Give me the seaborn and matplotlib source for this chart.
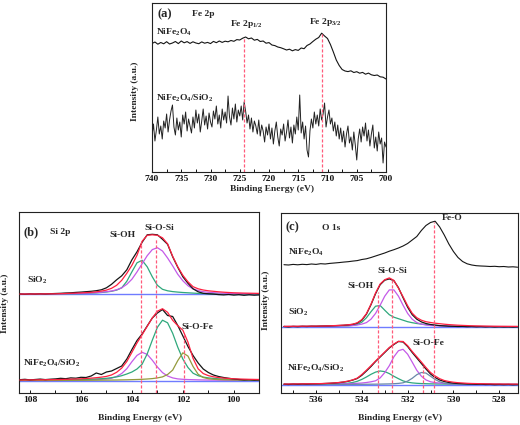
import numpy as np
import matplotlib
matplotlib.use("Agg")
import matplotlib.pyplot as plt
from matplotlib.ticker import MultipleLocator
import seaborn as sns

# ---------------- Panel (a): Fe 2p ----------------
a_nife_y = [
    128.5, 130.0, 127.8, 129.5, 128.2, 130.3, 128.0, 129.0, 130.5, 128.4,
    131.0, 129.2, 130.4, 128.6, 130.2, 129.0, 128.3, 130.1, 128.8, 129.6,
    128.4, 130.6, 129.3, 131.0, 129.6, 130.8, 130.2, 131.5, 130.7, 132.4,
    132.0, 133.8, 135.0, 133.2, 134.0, 131.8, 132.6, 130.5, 131.0, 128.8,
    129.4, 127.0, 126.4, 125.0, 124.3, 123.2, 122.0, 122.8, 121.2, 122.4,
    121.6, 124.0, 123.3, 126.5, 128.0, 130.5, 132.8, 134.5, 138.8, 136.0,
    133.5, 127.5, 120.0, 112.0, 106.5, 102.5, 101.0, 100.4, 101.2, 99.5,
    100.3, 98.8, 99.6, 97.8, 98.9, 97.2, 96.5, 97.0, 95.2, 94.8,
    93.0]
a_comp_y = [
    36, 48, 31, 42, 55, 38, 46, 33, 51, 44,
    58, 40, 52, 61, 67, 45, 37, 54, 42, 50,
    35, 57, 48, 60, 41, 53, 46, 39, 55, 44,
    62, 49, 58, 40, 51, 63, 47, 56, 43, 59,
    50,
    45, 61, 53, 66, 48, 57, 44, 63, 52, 60,
    49, 76, 55, 47, 64, 53, 68, 50, 62, 56,
    66, 52, 70, 61, 49, 57, 43, 54, 40, 51,
    46, 38, 52, 36, 47, 41, 30, 45, 37, 48,
    33, 44, 28, 41, 50, 35, 26, 43, 37, 48,
    31, 40, 52, 34, 45, 29, 47, 38, 55, 42,
    77, 39, 50, 33, 46, 22, 15, 41, 53, 44,
    60, 48, 57, 46, 63, 52, 58, 69, 45, 55,
    62, 48, 54, 41, 50, 36, 47, 33, 44, 30,
    41, 25, 38, 46, 29, 35, 22, 40, 27, 12,
    33, 43, 30, 45, 36, 49, 31, 42, 26, 38,
    47, 24, 35, 21, 40, 28, 34, 9, 30, 25]
a_E1 = np.linspace(740, 700, len(a_nife_y))
a_E2 = np.linspace(740, 700, len(a_comp_y))
a_peaks = [724.2, 710.9]
a_peak_top = [135, 139]

# ---------------- Panel (b): Si 2p ----------------
b_E = np.linspace(108.4, 99.0, 48)
b_off_sio2 = 98.7
b_off_comp = 12.5
b_sio2_raw = [
    0.3, 0.0, 0.4, 0.2, 0.5, 0.3, 0.6, 0.8, 1.0, 1.3,
    1.5, 1.9, 2.2, 2.6, 3.0, 3.6, 4.5, 6.5, 10.0, 14.5,
    18.5, 24.5, 34.5, 42.5, 52.0, 59.5, 60.0, 59.5, 55.0, 50.0,
    37.5, 27.0, 17.5, 11.0, 5.5, 2.5, 1.0, 0.5, 0.2, -0.3,
    -0.6, -0.2, -0.8, -0.4, -1.0, -0.5, -0.9, -0.6]
b_sio2_env = [
    0.25, 0.28, 0.3, 0.33, 0.37, 0.4, 0.45,
    0.5, 0.6, 0.8, 1.0, 1.2, 1.4, 1.7, 2.0, 2.5, 3.2,
    4.2, 6.0, 9.0, 14.0, 21.0, 29.0, 39.0, 53.0, 59.0, 59.5,
    59.0, 56.5, 50.5, 38.0, 27.5, 19.0, 12.5, 7.6, 5.5, 4.3,
    3.5, 3.0, 2.5, 2.1, 1.8, 1.5,
    1.35, 1.2, 1.1, 1.0, 0.9]
b_sio2_sioh = [
    0.15, 0.16, 0.18, 0.2, 0.22, 0.25, 0.28,
    0.3, 0.3, 0.4, 0.5, 0.6, 0.7, 0.9, 1.1, 1.4, 1.8,
    2.3, 3.0, 4.2, 6.5, 13.0, 22.5, 31.5, 34.0, 27.5, 17.5,
    9.0, 5.0, 3.5, 2.7, 2.2, 1.8, 1.5, 1.2, 0.9, 0.7,
    0.6, 0.5, 0.4, 0.3, 0.3, 0.2,
    0.2, 0.18, 0.16, 0.15, 0.14]
b_sio2_siosi = [
    0.25, 0.28, 0.3, 0.33, 0.37, 0.4, 0.45,
    0.5, 0.5, 0.6, 0.7, 0.8, 1.0, 1.2, 1.4, 1.7, 2.1,
    2.6, 3.3, 4.5, 6.5, 10.0, 15.1, 22.4, 30.5, 38.6, 44.7,
    46.6, 43.3, 36.3, 28.4, 20.0, 13.5, 8.6, 5.4, 3.7, 2.6,
    2.0, 1.6, 1.3, 1.1, 0.9, 0.8,
    0.7, 0.65, 0.6, 0.55, 0.5]
b_comp_raw = [
    0.8, 1.2, 0.6, 1.0, 1.4, 0.9, 1.3, 1.6, 2.2, 1.8,
    2.6, 2.3, 3.2, 3.0, 4.5, 7.5, 6.0, 8.5, 9.5, 12.0,
    14.5, 21.5, 31.0, 40.0, 46.5, 54.5, 62.5, 67.5, 71.0, 65.0,
    64.0, 55.0, 44.5, 34.0, 25.0, 17.5, 11.5, 8.0, 5.5, 4.0,
    3.0, 2.2, 1.5, 1.0, 0.6, 0.8, 0.4, 0.6]
b_comp_env = [
    0.5, 0.55, 0.6, 0.65, 0.7, 0.75, 0.82,
    0.9, 1.0, 1.15, 1.3, 1.5, 1.7, 2.0, 2.35, 2.8, 3.35,
    4.1, 5.55, 8.2, 12.4, 19.0, 28.15, 37.6, 45.7, 54.2, 62.5,
    69.3, 71.8, 68.2, 60.2, 54.8, 50.3, 38.35, 22.1, 11.65, 6.95,
    4.85, 3.7, 2.95, 2.4, 2.05, 1.7,
    1.5, 1.35, 1.2, 1.1, 1.0]
b_comp_sioh = [
    0.15, 0.17, 0.19, 0.21, 0.23, 0.26, 0.28,
    0.3, 0.35, 0.4, 0.45, 0.5, 0.6, 0.7, 0.85, 1.0, 1.2,
    1.5, 2.3, 4.1, 7.0, 11.8, 18.8, 25.1, 28.2, 26.1, 20.3,
    13.5, 7.9, 4.5, 2.6, 1.6, 1.2, 0.95, 0.8, 0.65, 0.55,
    0.45, 0.4, 0.35, 0.3, 0.25, 0.2,
    0.18, 0.16, 0.15, 0.14, 0.13]
b_comp_siosi = [
    0.28, 0.3, 0.33, 0.36, 0.4, 0.43, 0.47,
    0.5, 0.55, 0.6, 0.7, 0.8, 0.9, 1.05, 1.25, 1.5, 1.8,
    2.2, 2.8, 3.6, 4.8, 6.5, 8.5, 11.5, 16.3, 26.6, 40.3,
    53.2, 60.3, 57.7, 47.2, 33.3, 21.4, 13.0, 7.3, 4.8, 3.4,
    2.6, 2.1, 1.7, 1.4, 1.2, 1.0,
    0.9, 0.8, 0.75, 0.7, 0.65]
b_comp_siofe = [
    0.05, 0.05, 0.05, 0.05, 0.05, 0.05, 0.05,
    0.1, 0.1, 0.15, 0.15, 0.2, 0.2, 0.25, 0.25, 0.3, 0.35,
    0.4, 0.45, 0.5, 0.6, 0.7, 0.85, 1.0, 1.2, 1.5, 1.9,
    2.6, 3.6, 6.0, 10.4, 19.9, 27.7, 24.4, 14.0, 6.2, 3.0,
    1.8, 1.2, 0.9, 0.7, 0.6, 0.5,
    0.45, 0.4, 0.36, 0.33, 0.3]
b_base_E = [108.42, 99.0]
b_base_y = [0.0, 0.0]
b_peaks = [103.65, 103.05, 101.96]
b_peak_top = [151, 155, 60]

# ---------------- Panel (c): O 1s ----------------
c_E = np.linspace(537.4, 527.2, 52)
c_off_sio2 = 66.3
c_off_comp = 8.5
c_nife_raw = [
    128.3, 128.0, 128.6, 128.2, 128.7, 128.4, 129.0, 128.6, 129.3, 129.0,
    129.6, 130.0, 130.4, 130.9, 131.3, 131.9, 132.4, 133.5, 134.2, 135.5,
    137.0, 138.5, 140.0, 141.8, 143.3, 145.0, 147.0, 149.5, 153.0, 156.5,
    162.5, 167.5, 170.5, 171.8, 166.0, 158.0, 149.0, 141.5, 135.5, 131.5,
    129.2, 128.0, 127.3, 127.0, 126.8, 126.5, 126.7, 126.3, 126.5, 126.0,
    126.2, 125.8]
c_sio2_raw = [
    0.2, -0.2, 0.3, 0.0, 0.4, 0.2, 0.5, 0.4, 0.6, 0.7,
    0.8, 1.0, 1.2, 1.4, 1.8, 2.3, 3.5, 6.5, 12.5, 22.0,
    33.0, 42.0, 46.5, 47.8, 46.0, 39.0, 29.0, 19.5, 12.0, 7.5,
    4.8, 3.2, 2.2, 1.6, 1.1, 0.8, 0.5, 0.4, 0.2, 0.3,
    0.0, 0.2, -0.1, 0.1, -0.2, 0.0, -0.3, -0.1, -0.3, -0.2,
    -0.4, -0.2]
c_sio2_env = [
    0.35, 0.38, 0.42, 0.45, 0.5, 0.53, 0.57,
    0.6, 0.65, 0.75, 0.9, 1.1, 1.3, 1.55, 1.9, 2.5, 3.9,
    7.1, 13.0, 22.5, 33.8, 42.7, 47.0, 48.8, 46.3, 38.5, 30.0,
    21.0, 13.5, 9.0, 6.5, 5.0, 4.2, 3.5, 3.0, 2.5, 2.1,
    1.8, 1.5, 1.3, 1.1, 0.9, 0.8, 0.7, 0.6, 0.5, 0.45,
    0.4, 0.37, 0.34, 0.32, 0.3]
c_sio2_sioh = [
    0.18, 0.19, 0.2, 0.22, 0.24, 0.26, 0.28,
    0.3, 0.3, 0.35, 0.4, 0.5, 0.6, 0.75, 0.9, 1.3, 2.2,
    4.5, 8.9, 15.0, 20.5, 21.2, 16.5, 12.0, 9.5, 8.0, 6.5,
    5.0, 4.0, 3.2, 2.6, 2.1, 1.7, 1.3, 1.0, 0.8, 0.6,
    0.5, 0.4, 0.35, 0.3, 0.25, 0.2, 0.2, 0.15, 0.15, 0.1,
    0.1, 0.1, 0.08, 0.08, 0.07]
c_sio2_siosi = [
    0.18, 0.19, 0.2, 0.22, 0.24, 0.26, 0.28,
    0.3, 0.35, 0.4, 0.5, 0.6, 0.7, 0.8, 1.0, 1.2, 1.7,
    2.6, 4.1, 7.5, 13.3, 21.5, 30.5, 36.8, 36.8, 30.5, 21.5,
    13.3, 7.5, 4.1, 2.6, 1.7, 1.2, 1.0, 0.8, 0.7, 0.6,
    0.5, 0.4, 0.35, 0.3, 0.3, 0.25, 0.2, 0.2, 0.2, 0.15,
    0.15, 0.14, 0.13, 0.12, 0.12]
c_comp_raw = [
    0.3, 0.0, 0.4, 0.2, 0.5, 0.4, 0.6, 0.7, 0.8, 1.0,
    1.2, 1.5, 1.9, 2.4, 3.2, 4.4, 6.0, 9.2, 13.5, 18.0,
    23.0, 27.5, 32.0, 36.5, 40.0, 43.0, 42.5, 38.0, 32.0, 26.5,
    21.0, 15.5, 10.5, 7.0, 4.5, 3.0, 2.0, 1.4, 1.0, 0.8,
    0.5, 0.4, 0.2, 0.3, 0.0, 0.1, -0.2, 0.0, -0.2, 0.0,
    -0.3, -0.1]
c_comp_env = [
    0.45, 0.5, 0.55, 0.6, 0.65, 0.7, 0.75,
    0.8, 0.9, 1.1, 1.3, 1.6, 2.0, 2.6, 3.4, 4.6, 6.4,
    10.0, 14.3, 18.8, 23.5, 28.0, 32.5, 37.0, 40.5, 43.2, 43.0,
    38.8, 33.0, 27.8, 22.5, 17.0, 12.0, 8.5, 5.8, 4.0, 3.0,
    2.3, 1.8, 1.5, 1.2, 1.0, 0.9, 0.8, 0.7, 0.6, 0.55,
    0.5, 0.46, 0.43, 0.4, 0.38]
c_comp_sioh = [
    0.2, 0.22, 0.24, 0.26, 0.28, 0.3, 0.33,
    0.35, 0.4, 0.45, 0.55, 0.65, 0.8, 1.0, 1.3, 2.0, 3.2,
    5.1, 7.5, 10.2, 12.4, 13.5, 12.9, 10.9, 8.2, 5.8, 3.6,
    2.3, 1.6, 1.2, 0.95, 0.8, 0.65, 0.55, 0.5, 0.45, 0.4,
    0.35, 0.3, 0.3, 0.25, 0.25, 0.2, 0.2, 0.2, 0.15, 0.15,
    0.1, 0.1, 0.09, 0.08, 0.08]
c_comp_siosi = [
    0.17, 0.18, 0.2, 0.22, 0.24, 0.26, 0.28,
    0.3, 0.35, 0.4, 0.45, 0.5, 0.6, 0.7, 0.85, 1.0, 1.2,
    1.5, 2.0, 2.7, 3.7, 6.6, 11.9, 18.8, 27.7, 33.8, 35.2,
    30.3, 22.4, 14.2, 8.3, 4.6, 2.7, 1.9, 1.4, 1.1, 0.9,
    0.75, 0.65, 0.55, 0.5, 0.45, 0.4, 0.35, 0.3, 0.3, 0.25,
    0.25, 0.22, 0.2, 0.19, 0.18]
c_comp_siofe = [
    0.03, 0.03, 0.03, 0.03, 0.03, 0.03, 0.03,
    0.05, 0.05, 0.05, 0.1, 0.1, 0.1, 0.1, 0.15, 0.15, 0.2,
    0.2, 0.25, 0.3, 0.35, 0.4, 0.5, 0.6, 0.8, 1.1, 1.7,
    3.4, 6.2, 9.8, 12.0, 11.4, 8.3, 5.0, 2.7, 1.3, 0.7,
    0.5, 0.4, 0.3, 0.25, 0.2, 0.2, 0.15, 0.15, 0.1, 0.1,
    0.1, 0.08, 0.08, 0.07, 0.07]
c_base_E = [537.53, 527.18]
c_base_y = [0.0, 0.0]
c_peaks = [533.3, 532.69, 531.34, 530.86]
c_peak_top = [101, 113, 27, 171]

# ---------------- style ----------------
sns.set_theme(style="ticks")
plt.rcParams["font.family"] = ["Liberation Serif", "DejaVu Serif"]
plt.rcParams["font.weight"] = "bold"
plt.rcParams["mathtext.fontset"] = "custom"
plt.rcParams["mathtext.rm"] = "Liberation Serif:bold"
plt.rcParams["mathtext.it"] = "Liberation Serif:italic:bold"
plt.rcParams["mathtext.bf"] = "Liberation Serif:bold"
plt.rcParams["mathtext.default"] = "rm"

K = "#151515"
RED = "#ff2040"
GREEN = "#2fa87c"
PURPLE = "#c45ae8"
BLUE = "#6f7cff"
OLIVE = "#949a3c"
SLATE = "#6a88a8"
DASH = "#ff5a7a"
FS = 6.8

W, H = 520, 425
fig = plt.figure(figsize=(W / 100, H / 100), dpi=100)


def axes_px(x0, y0, x1, y1):
    return fig.add_axes([x0 / W, 1 - y1 / H, (x1 - x0) / W, (y1 - y0) / H])


def txt(px, py, s, size=FS, ha="left", **kw):
    fig.text(px / W, 1 - py / H, s, fontsize=size, ha=ha, va="center",
             fontweight="bold", **kw)


def line(ax, x, y, color, lw=0.9, z=2):
    sns.lineplot(x=np.asarray(x, float), y=np.asarray(y, float), ax=ax,
                 color=color, lw=lw, estimator=None, sort=False, zorder=z)


def style(ax, major, minor):
    for s in ax.spines.values():
        s.set_color("#222222")
        s.set_linewidth(0.8)
    ax.set_yticks([])
    ax.xaxis.set_major_locator(MultipleLocator(major))
    ax.xaxis.set_minor_locator(MultipleLocator(minor))
    ax.tick_params(axis="x", which="both", direction="in", length=2.5,
                   width=0.7, pad=2, labelsize=FS, colors="#111111")
    ax.set_xlabel("")
    ax.set_ylabel("")
    for lab in ax.get_xticklabels():
        lab.set_fontweight("bold")


# ---- (a) ----
axa = axes_px(152, 3, 386, 172)
line(axa, a_E1, a_nife_y, K, 0.8)
line(axa, a_E2, a_comp_y, "#222222", 0.7)
axa.vlines(a_peaks, 0, a_peak_top, colors=DASH, linestyles=(0, (2.5, 1.5)), lw=0.9)
axa.set_xlim(740, 700)
axa.set_ylim(0, 169)
style(axa, 5, 2.5)
txt(157, 14, "(a)", 9)
txt(192, 14, "Fe 2p")
txt(156, 32, "NiFe$_2$O$_4$")
txt(246, 24, "Fe 2p$_{1/2}$", ha="center")
txt(325, 22, "Fe 2p$_{3/2}$", ha="center")
txt(156, 98, "NiFe$_2$O$_4$/SiO$_2$")
txt(135, 91, "Intensity (a.u.)", ha="center", rotation=90)
txt(272, 189, "Binding Energy (eV)", ha="center")

# ---- (b) ----
axb = axes_px(19.3, 212, 259.3, 393)
for off, raw, env, comps in [
    (b_off_sio2, b_sio2_raw, b_sio2_env, [(b_sio2_sioh, GREEN), (b_sio2_siosi, PURPLE)]),
    (b_off_comp, b_comp_raw, b_comp_env, [(b_comp_sioh, PURPLE), (b_comp_siosi, GREEN),
                                          (b_comp_siofe, OLIVE)]),
]:
    line(axb, b_base_E, np.add(b_base_y, off), BLUE, 1.0, 1)
    for comp, col in comps:
        line(axb, b_E, np.add(comp, off), col, 0.9, 2)
    line(axb, b_E, np.add(raw, off), K, 0.9, 3)
    line(axb, b_E, np.add(env, off), RED, 0.9, 4)
axb.vlines(b_peaks, 0, b_peak_top, colors=DASH, linestyles=(0, (2.5, 1.5)), lw=0.9, zorder=5)
axb.set_xlim(108.42, 99.0)
axb.set_ylim(0, 181)
style(axb, 2, 1)
txt(24, 232, "(b)", 9)
txt(50, 232, "Si 2p")
txt(123, 235, "Si-OH", ha="center")
txt(159, 228, "Si-O-Si", ha="center")
txt(27, 280, "SiO$_2$")
txt(197, 327, "Si-O-Fe", ha="center")
txt(23, 363, "NiFe$_2$O$_4$/SiO$_2$")
txt(5, 303, "Intensity (a.u.)", ha="center", rotation=90)
txt(140, 418, "Binding Energy (eV)", ha="center")

# ---- (c) ----
axc = axes_px(281, 213, 518, 393)
line(axc, c_E, c_nife_raw, K, 0.8, 3)
for off, raw, env, comps in [
    (c_off_sio2, c_sio2_raw, c_sio2_env, [(c_sio2_sioh, GREEN), (c_sio2_siosi, PURPLE)]),
    (c_off_comp, c_comp_raw, c_comp_env, [(c_comp_sioh, GREEN), (c_comp_siosi, PURPLE),
                                          (c_comp_siofe, SLATE)]),
]:
    line(axc, c_base_E, np.add(c_base_y, off), BLUE, 1.0, 1)
    for comp, col in comps:
        line(axc, c_E, np.add(comp, off), col, 0.9, 2)
    line(axc, c_E, np.add(raw, off), K, 0.9, 3)
    line(axc, c_E, np.add(env, off), RED, 0.9, 4)
axc.vlines(c_peaks, 0, c_peak_top, colors=DASH, linestyles=(0, (2.5, 1.5)), lw=0.9, zorder=5)
axc.set_xlim(537.53, 527.18)
axc.set_ylim(0, 180)
style(axc, 2, 1)
txt(286, 227, "(c)", 9)
txt(322, 228, "O 1s")
txt(452, 218, "Fe-O", ha="center")
txt(288, 252, "NiFe$_2$O$_4$")
txt(392, 271, "Si-O-Si", ha="center")
txt(361, 286, "Si-OH", ha="center")
txt(288, 312, "SiO$_2$")
txt(428, 343, "Si-O-Fe", ha="center")
txt(287, 368, "NiFe$_2$O$_4$/SiO$_2$")
txt(266, 300, "Intensity (a.u.)", ha="center", rotation=90)
txt(400, 418, "Binding Energy (eV)", ha="center")

fig.savefig("out.png", dpi=100)
